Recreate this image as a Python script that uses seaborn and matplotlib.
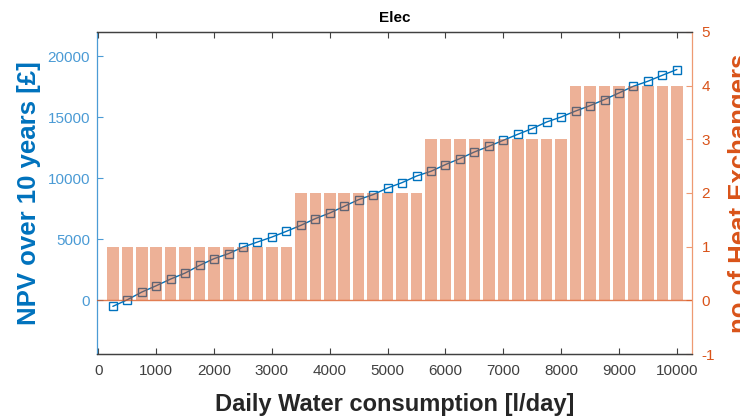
import numpy as np
import pandas as pd
import matplotlib
matplotlib.use("Agg")
import matplotlib.pyplot as plt
import seaborn as sns

# Daily water consumption steps [l/day]
consumption = [250, 500, 750, 1000, 1250, 1500, 1750, 2000, 2250, 2500,
               2750, 3000, 3250, 3500, 3750, 4000, 4250, 4500, 4750, 5000,
               5250, 5500, 5750, 6000, 6250, 6500, 6750, 7000, 7250, 7500,
               7750, 8000, 8250, 8500, 8750, 9000, 9250, 9500, 9750, 10000]

# Net present value over 10 years [£]
npv = [-490, 50, 680, 1200, 1750, 2240, 2870, 3420, 3830, 4370,
       4780, 5190, 5660, 6150, 6700, 7160, 7710, 8260, 8670, 9210,
       9650, 10190, 10580, 11130, 11620, 12160, 12630, 13120, 13610, 14080,
       14620, 15030, 15520, 15960, 16460, 17000, 17550, 17960, 18450, 18920]

# Number of heat exchangers required
n_exchangers = [1] * 13 + [2] * 9 + [3] * 10 + [4] * 8

x_ticks = [0, 1000, 2000, 3000, 4000, 5000, 6000, 7000, 8000, 9000, 10000]
left_ticks = [0, 5000, 10000, 15000, 20000]
right_ticks = [-1, 0, 1, 2, 3, 4, 5]

df = pd.DataFrame({"consumption": consumption, "npv": npv, "hx": n_exchangers})

sns.set_theme(style="ticks")
plt.rcParams["font.family"] = ["Liberation Sans", "DejaVu Sans"]

BLUE = "#0072BD"
BLUE_LIGHT = "#4B9BD5"
ORANGE = "#D95319"
ORANGE_LIGHT = "#EE9A72"
GRAY = "#404040"

fig = plt.figure(figsize=(7.4, 4.2), dpi=100)
ax = fig.add_axes([0.131, 0.157, 0.804, 0.767])

sns.lineplot(data=df, x="consumption", y="npv", ax=ax, color=BLUE,
             linewidth=1.0, marker="s", markersize=5.5,
             markerfacecolor="none", markeredgecolor=BLUE,
             markeredgewidth=1.0)

ax2 = ax.twinx()
sns.barplot(data=df, x="consumption", y="hx", ax=ax2, native_scale=True,
            width=0.8, color=ORANGE, alpha=0.45, linewidth=0,
            saturation=1, errorbar=None)
ax2.axhline(0, color=ORANGE, alpha=0.75, linewidth=1.0)

ax.set_xlim(-25, 10260)
ax2.set_xlim(-25, 10260)
ax.set_ylim(-4400, 22000)
ax2.set_ylim(-1, 5)

ax.set_xticks(x_ticks)
ax.set_xticklabels([str(t) for t in x_ticks])
ax.set_yticks(left_ticks)
ax.set_yticklabels([str(t) for t in left_ticks])
ax2.set_yticks(right_ticks)
ax2.set_yticklabels([str(t) for t in right_ticks])

for a in (ax, ax2):
    a.tick_params(direction="in", length=4, width=0.8, labelsize=11)
ax.tick_params(axis="x", colors=GRAY, top=True, labelcolor=GRAY, pad=7)
ax.tick_params(axis="y", colors=BLUE_LIGHT, labelcolor=BLUE_LIGHT, pad=5)
ax2.tick_params(axis="y", colors=ORANGE_LIGHT, labelcolor=ORANGE, pad=7)
ax2.tick_params(axis="x", top=False, bottom=False)

for a in (ax, ax2):
    a.spines["top"].set_visible(True)
    a.spines["top"].set_color(GRAY)
    a.spines["bottom"].set_color(GRAY)
    a.spines["left"].set_color(BLUE_LIGHT)
    a.spines["right"].set_color(ORANGE_LIGHT)
    for s in a.spines.values():
        s.set_linewidth(0.9)
ax.spines["right"].set_visible(False)
ax2.spines["left"].set_visible(False)

ax.set_xlabel("Daily Water consumption [l/day]", fontsize=17,
              fontweight="bold", color="#262626", labelpad=11)
ax.set_ylabel("NPV over 10 years [£]", fontsize=18.5, fontweight="bold",
              color=BLUE, labelpad=5)
ax2.set_ylabel("no of Heat Exchangers", fontsize=18.5, fontweight="bold",
               color=ORANGE, labelpad=9)
ax.set_title("Elec", fontsize=11, fontweight="bold", color="black", pad=7)

fig.savefig("out.png", dpi=100)
